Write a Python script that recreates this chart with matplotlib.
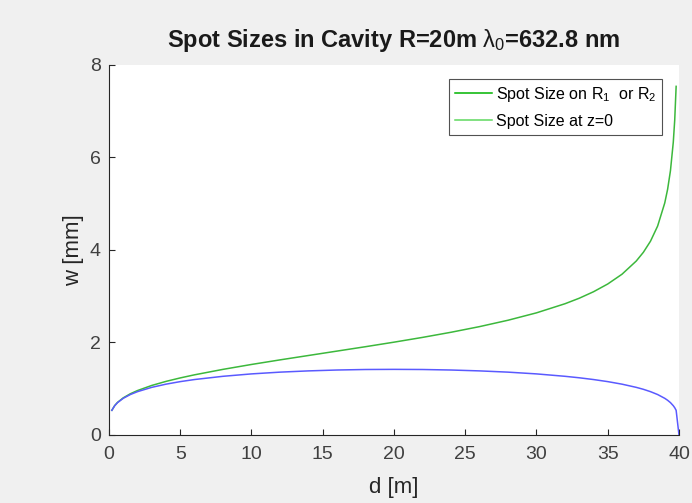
import matplotlib
matplotlib.use("Agg")
import matplotlib.pyplot as plt
from matplotlib.lines import Line2D

# Cavity length d [m] and spot sizes [mm]
d_mirror = [0.2, 0.4, 0.6, 1, 1.5, 2, 3, 4, 5, 6, 8, 10, 12, 14, 16, 18, 20,
            22, 24, 26, 28, 30, 32, 33, 34, 35, 36, 37, 37.5, 38, 38.5, 39,
            39.2, 39.4, 39.6, 39.7, 39.8]
w_mirror = [0.534, 0.636, 0.705, 0.803, 0.892, 0.961, 1.071, 1.159, 1.234,
            1.301, 1.419, 1.525, 1.624, 1.719, 1.814, 1.909, 2.007, 2.110,
            2.221, 2.343, 2.481, 2.641, 2.838, 2.957, 3.097, 3.265, 3.476,
            3.761, 3.950, 4.190, 4.517, 5.016, 5.310, 5.713, 6.331, 6.807,
            7.538]

d_waist = [0.2, 0.4, 0.6, 1, 1.5, 2, 3, 4, 5, 6, 8, 10, 12, 14, 16, 18, 20,
           22, 24, 26, 28, 30, 32, 33, 34, 35, 36, 37, 37.5, 38, 38.5, 39,
           39.2, 39.4, 39.6, 39.7, 39.8, 40]
w_waist = [0.533, 0.633, 0.700, 0.793, 0.875, 0.937, 1.030, 1.099, 1.154,
           1.199, 1.269, 1.321, 1.359, 1.386, 1.405, 1.416, 1.419, 1.416,
           1.405, 1.386, 1.359, 1.321, 1.269, 1.237, 1.199, 1.154, 1.099,
           1.030, 0.988, 0.937, 0.875, 0.793, 0.751, 0.700, 0.633, 0.590,
           0.533, 0.0]

labels = ["Spot Size on R$_1$  or R$_2$", "Spot Size at z=0"]
title = r"Spot Sizes in Cavity R=20m $\mathrm{\lambda}_0$=632.8 nm"

plt.rcParams['font.family'] = ['Liberation Sans', 'DejaVu Sans']
plt.rcParams['mathtext.fontset'] = 'custom'
plt.rcParams['mathtext.rm'] = 'Liberation Sans'
plt.rcParams['mathtext.it'] = 'Liberation Sans:italic'
plt.rcParams['mathtext.bf'] = 'Liberation Sans:bold'

fig = plt.figure(figsize=(6.92, 5.03), dpi=100, facecolor='#f0f0f0')
ax = fig.add_axes([0.1575, 0.1352, 0.8237, 0.7356])
ax.set_facecolor('white')

ax.plot(d_mirror, w_mirror, color='#3cb83c', lw=1.1)
ax.plot(d_waist, w_waist, color='#5a5aff', lw=1.1)

ax.set_xlim(0, 40)
ax.set_ylim(0, 8)
ax.set_xticks(range(0, 41, 5))
ax.set_yticks(range(0, 9, 2))
for s in ['top', 'right']:
    ax.spines[s].set_visible(False)
for s in ['left', 'bottom']:
    ax.spines[s].set_color('#262626')
    ax.spines[s].set_linewidth(0.8)
ax.tick_params(direction='in', length=4, width=0.8, colors='#262626',
               labelsize=14, labelcolor='#404040')
ax.tick_params(axis='x', pad=8)
ax.tick_params(axis='y', pad=6)

ax.set_xlabel("d [m]", fontsize=16, color='#262626', labelpad=10)
ax.set_ylabel("w [mm]", fontsize=16, color='#262626', labelpad=4)
ax.set_title(title, fontsize=17, fontweight='bold', color='#1a1a1a', pad=13)

handles = [Line2D([], [], color='#00b400', lw=1.1),
           Line2D([], [], color='#5fd85f', lw=1.1)]
leg = ax.legend(handles, labels, loc='upper right',
                bbox_to_anchor=(0.971, 0.962), fontsize=11.5,
                frameon=True, fancybox=False, handlelength=2.3,
                handletextpad=0.3, borderpad=0.35, labelspacing=0.65,
                borderaxespad=0.0)
leg.get_frame().set_edgecolor('#262626')
leg.get_frame().set_linewidth(0.8)

fig.savefig("out.png", dpi=100, facecolor=fig.get_facecolor())
